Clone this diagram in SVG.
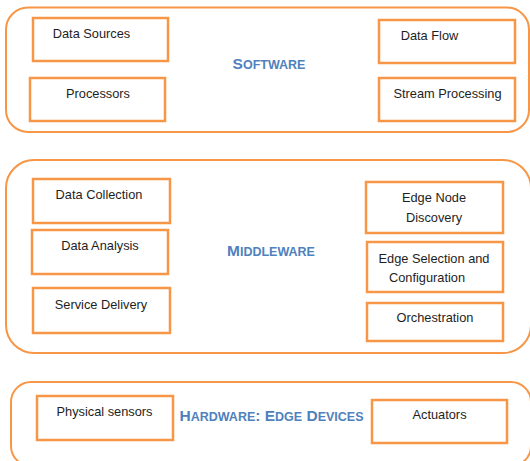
<svg xmlns="http://www.w3.org/2000/svg" width="530" height="461" viewBox="0 0 530 461">
<style>
.layer{fill:none;stroke:#f79646;stroke-width:2}
.box{fill:#fff;stroke:#f79646;stroke-width:2.5}
.lbl{font-family:"Liberation Sans",Arial,sans-serif;font-size:12.8px;fill:#1e1e1e;text-anchor:middle}
.ttl{font-family:"Liberation Sans",Arial,sans-serif;font-weight:bold;fill:#4f81bd;text-anchor:middle}
.big{font-size:15.5px}
.sm{font-size:12.5px}
</style>
<rect width="530" height="461" fill="#fff"/>
<g id="software">
<rect class="layer" x="6" y="7.5" width="523" height="124.5" rx="22"/>
<text class="ttl" x="269" y="69"><tspan class="big">S</tspan><tspan class="sm">OFTWARE</tspan></text>
</g>
<g id="data-sources"><rect class="box" x="33" y="18" width="135" height="43"/><text class="lbl" x="91.5" y="37.5">Data Sources</text></g>
<g id="processors"><rect class="box" x="30" y="78" width="135" height="43"/><text class="lbl" x="98" y="98">Processors</text></g>
<g id="data-flow"><rect class="box" x="379" y="20" width="136" height="43"/><text class="lbl" x="429.5" y="39.5">Data Flow</text></g>
<g id="stream-processing"><rect class="box" x="379" y="78" width="136" height="43"/><text class="lbl" x="447.5" y="98">Stream Processing</text></g>
<g id="middleware">
<rect class="layer" x="6" y="160" width="525" height="193" rx="28"/>
<text class="ttl" x="271" y="256"><tspan class="big">M</tspan><tspan class="sm">IDDLEWARE</tspan></text>
</g>
<g id="data-collection"><rect class="box" x="33" y="179" width="137" height="44"/><text class="lbl" x="99" y="199">Data Collection</text></g>
<g id="data-analysis"><rect class="box" x="32" y="230" width="136" height="44"/><text class="lbl" x="100" y="250">Data Analysis</text></g>
<g id="service-delivery"><rect class="box" x="33" y="288" width="137" height="45"/><text class="lbl" x="101" y="309">Service Delivery</text></g>
<g id="edge-node-discovery"><rect class="box" x="366" y="182" width="137" height="51"/><text class="lbl" x="434" y="202.3">Edge Node</text><text class="lbl" x="434" y="222.3">Discovery</text></g>
<g id="edge-selection"><rect class="box" x="367" y="242" width="136" height="50"/><text class="lbl" x="434" y="263">Edge Selection and</text><text class="lbl" x="427" y="282.3">Configuration</text></g>
<g id="orchestration"><rect class="box" x="367" y="303" width="136" height="38"/><text class="lbl" x="435" y="321.7">Orchestration</text></g>
<g id="hardware">
<rect class="layer" x="11" y="382" width="520" height="84" rx="20"/>
<text class="ttl" x="271.5" y="421"><tspan class="big">H</tspan><tspan class="sm">ARDWARE</tspan><tspan class="big">: E</tspan><tspan class="sm">DGE</tspan><tspan class="big"> D</tspan><tspan class="sm">EVICES</tspan></text>
</g>
<g id="physical-sensors"><rect class="box" x="37" y="396" width="136" height="44"/><text class="lbl" x="104.5" y="415.7">Physical sensors</text></g>
<g id="actuators"><rect class="box" x="372" y="400" width="135" height="43"/><text class="lbl" x="439.5" y="419.3">Actuators</text></g>
<g id="connectors"></g>
</svg>
